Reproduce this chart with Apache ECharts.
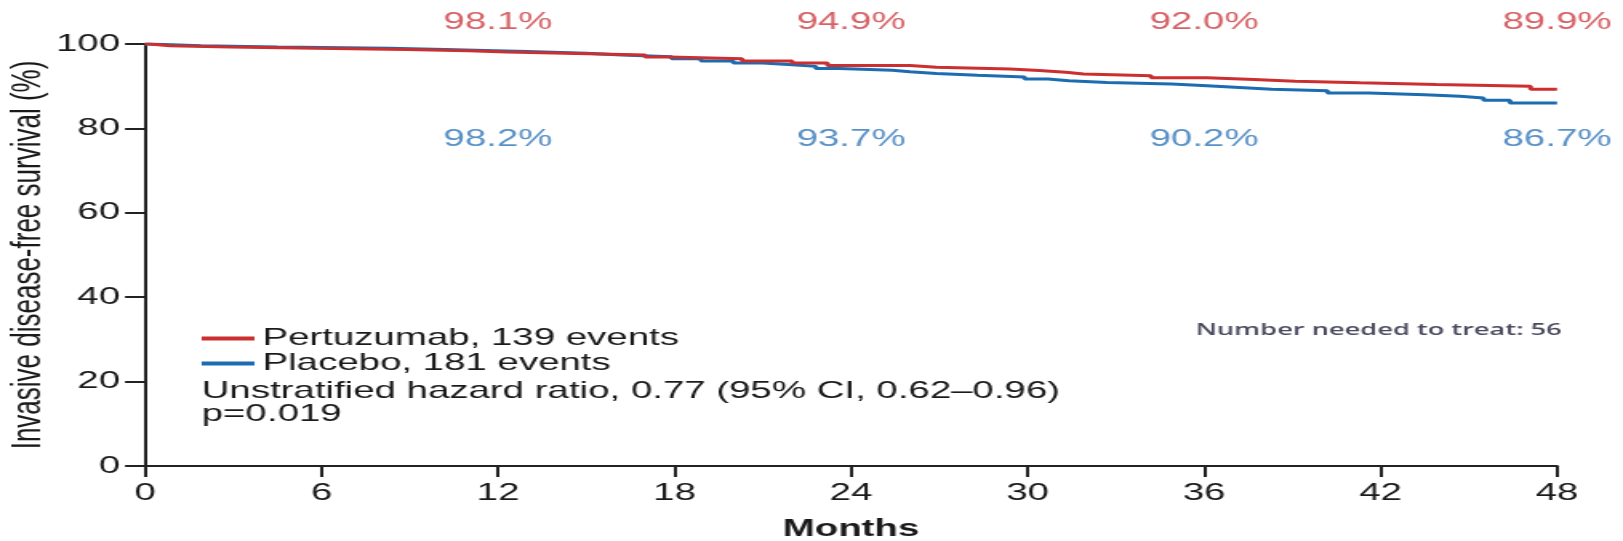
<!DOCTYPE html>
<html>
<head>
<meta charset="utf-8">
<script src="https://cdn.jsdelivr.net/npm/echarts@6/dist/echarts.min.js"></script>
<style>
html, body { margin: 0; padding: 0; background: #ffffff; overflow: hidden; }
#wrap { width: 1623px; height: 541px; overflow: hidden; }
#chart { width: 1014px; height: 541px; transform: scaleX(1.6006); transform-origin: 0 0; }
</style>
</head>
<body>
<div id="wrap"><div id="chart"></div></div>
<script>
// ---- data ----
const xTicks = [0, 6, 12, 18, 24, 30, 36, 42, 48];
const yTicks = [0, 20, 40, 60, 80, 100];

const pertuzumabName = 'Pertuzumab, 139 events';
const placeboName = 'Placebo, 181 events';

const pertuzumabMonths = [0, 0.15, 0.85, 2.9, 5.8, 8.9, 11.0, 12.3, 14.3, 17.0, 17.8, 20.3, 22.0, 23.2, 26.0, 26.9, 29.4, 30.4, 31.3, 31.9, 34.2, 36.1, 37.7, 39.1, 41.3, 43.9, 47.1, 48.0];
const pertuzumabSurv = [100, 99.6, 99.3, 99.0, 98.7, 98.4, 98.1, 97.8, 97.4, 96.9, 96.5, 96.0, 95.5, 94.9, 94.5, 94.1, 93.7, 93.3, 92.9, 92.5, 92.0, 91.6, 91.2, 90.8, 90.4, 90.0, 89.3, 89.3];

const placeboMonths = [0, 0.15, 1.9, 4.5, 8.3, 10.2, 11.9, 13.0, 15.0, 16.2, 17.9, 18.9, 20.0, 21.0, 22.0, 22.8, 23.6, 25.4, 26.0, 26.9, 28.3, 29.9, 30.7, 31.4, 32.7, 34.9, 36.1, 37.2, 38.3, 40.2, 41.6, 43.5, 44.7, 45.5, 46.4, 48.0];
const placeboSurv = [100, 99.6, 99.3, 99.0, 98.7, 98.4, 98.2, 97.8, 97.4, 97.0, 96.5, 96.0, 95.5, 95.1, 94.7, 94.2, 93.8, 93.4, 93.0, 92.6, 92.2, 91.7, 91.3, 90.9, 90.5, 90.1, 89.7, 89.3, 88.9, 88.4, 88.0, 87.6, 87.2, 86.7, 86.0, 86.0];

const landmarkMonths = [12, 24, 36, 48];
const pertuzumabLandmarks = [98.1, 94.9, 92.0, 89.9];
const placeboLandmarks = [98.2, 93.7, 90.2, 86.7];

const hazardText = 'Unstratified hazard ratio, 0.77 (95% CI, 0.62\u20130.96)';
const pText = 'p=0.019';
const nntText = 'Number needed to treat: 56';
// --------------------------------------

const RED = '#cc2f2f';
const BLUE = '#1c6cb2';
const RED_TXT = '#cc3b40';
const BLUE_TXT = '#2f76b8';
const INK = '#1a1a1a';
const FONT = '"Liberation Sans", Arial, sans-serif';

function pairs(xs, ys) { return xs.map((x, i) => [x, ys[i]]); }

const chart = echarts.init(document.getElementById('chart'), null, { renderer: 'canvas' });

chart.setOption({
  animation: false,
  backgroundColor: '#ffffff',
  grid: { left: 90.6, right: 41.2, top: 44, bottom: 75, containLabel: false, outerBoundsMode: 'none' },
  legend: {
    orient: 'vertical',
    left: 126,
    top: 326,
    itemWidth: 33,
    itemHeight: 4,
    itemGap: 0,
    icon: 'rect',
    data: [pertuzumabName, placeboName],
    textStyle: { fontFamily: FONT, fontSize: 24, color: INK, lineHeight: 25 },
    padding: 0,
    selectedMode: false
  },
  xAxis: {
    type: 'value',
    min: 0, max: 48, interval: 6,
    name: 'Months',
    nameLocation: 'middle',
    nameGap: 51,
    nameMoveOverlap: false,
    nameTextStyle: { fontFamily: FONT, fontSize: 24, fontWeight: 'bold', color: INK },
    axisLine: { show: true, onZero: false, lineStyle: { color: '#222', width: 2 } },
    axisTick: { show: true, length: 11, lineStyle: { color: '#222', width: 2 } },
    axisLabel: { margin: 15, fontFamily: FONT, fontSize: 24, color: INK,
      formatter: v => xTicks.includes(v) ? String(v) : '' },
    splitLine: { show: false }
  },
  yAxis: {
    type: 'value',
    min: 0, max: 100, interval: 20,
    name: 'Invasive disease-free survival (%)',
    nameLocation: 'middle',
    nameRotate: 90,
    nameGap: 60,
    nameMoveOverlap: false,
    nameTextStyle: { fontFamily: FONT, fontSize: 26, color: INK },
    axisLine: { show: true, lineStyle: { color: '#222', width: 2 } },
    axisTick: { show: true, length: 12.5, lineStyle: { color: '#222', width: 2 } },
    axisLabel: { margin: 15.6, fontFamily: FONT, fontSize: 24, color: INK,
      formatter: v => yTicks.includes(v) ? String(v) : '' },
    splitLine: { show: false }
  },
  series: [
    {
      name: placeboName,
      type: 'line',
      step: 'end',
      data: pairs(placeboMonths, placeboSurv),
      showSymbol: false,
      symbol: 'none',
      itemStyle: { color: BLUE },
      lineStyle: { color: BLUE, width: 3 },
      z: 2
    },
    {
      name: pertuzumabName,
      type: 'line',
      step: 'end',
      data: pairs(pertuzumabMonths, pertuzumabSurv),
      showSymbol: false,
      symbol: 'none',
      itemStyle: { color: RED },
      lineStyle: { color: RED, width: 3 },
      z: 3
    },
    {
      name: 'pertuzumabLandmarks',
      type: 'scatter',
      data: pairs(landmarkMonths, pertuzumabLandmarks),
      symbolSize: 0,
      silent: true,
      label: {
        show: true, position: 'inside',
        formatter: p => p.value[1].toFixed(1) + '%',
        fontFamily: FONT, fontSize: 24, color: RED_TXT
      },
      labelLayout: { y: 22, align: 'center', verticalAlign: 'middle' },
      z: 5
    },
    {
      name: 'placeboLandmarks',
      type: 'scatter',
      data: pairs(landmarkMonths, placeboLandmarks),
      symbolSize: 0,
      silent: true,
      label: {
        show: true, position: 'inside',
        formatter: p => p.value[1].toFixed(1) + '%',
        fontFamily: FONT, fontSize: 24, color: BLUE_TXT
      },
      labelLayout: { y: 139, align: 'center', verticalAlign: 'middle' },
      z: 5
    }
  ],
  graphic: [
    {
      type: 'text', left: 126, top: 379,
      style: { text: hazardText, fontFamily: FONT, fontSize: 24, fill: INK }
    },
    {
      type: 'text', left: 126, top: 402,
      style: { text: pText, fontFamily: FONT, fontSize: 24, fill: INK }
    },
    {
      type: 'text', left: 747, top: 322,
      style: { text: nntText, fontFamily: '"Open Sans", sans-serif', fontSize: 17, fontWeight: 600, fill: '#4b4b60' }
    }
  ]
});
</script>
</body>
</html>
